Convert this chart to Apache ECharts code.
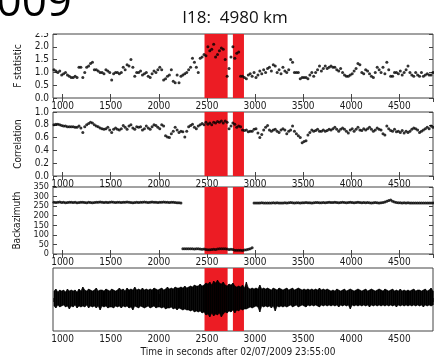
<!DOCTYPE html>
<html>
<head>
<meta charset="utf-8">
<script src="https://cdn.jsdelivr.net/npm/echarts@6/dist/echarts.min.js"></script>
<style>
  html, body { margin: 0; padding: 0; background: #fff; }
  #chart { width: 434px; height: 361px; }
</style>
</head>
<body>
<div id="chart"></div>
<script>
// sample times: every 20 s starting at 910 s
var tStart = 910;
var tStep = 20;

var fStat = [
  1.1, 1.05, 1.0, 1.05, 0.9,   0.95, 1.0, 0.9, 0.85, 0.8,   0.8, 0.85, 0.8, 1.2, 1.2,
  0.8, 1.0, 1.2, 1.25, 1.35,   1.4, 1.1, 1.1, 1.05, 1.0,   1.0, 0.95, 1.1, 1.05, 1.0,
  0.7, 0.95, 1.0, 1.0, 0.95,   1.0, 1.2, 1.1, 1.3, 1.25,   1.5, 1.2, 0.85, 1.0, 1.0,
  1.05, 0.9, 0.95, 1.0, 0.85,  0.8, 0.95, 1.05, 1.0, 1.1,  1.2, 1.1, 0.7, 0.75, 0.85,
  0.9, 1.1, 0.65, 0.6, 0.9,    0.6, 0.85, 0.9, 0.95, 1.0,  1.1, 1.2, 1.55, 1.4, 1.2,
  1.0, 1.55, 1.6, 1.7, 1.65,   2.0, 1.85, 1.9, 2.1, 1.6,   1.7, 1.85, 1.95, 1.9, 1.5,
  0.85, 1.15, 1.6, 2.0, 1.55,  1.75, 1.8, 0.85, 0.85, 0.8, 0.75, 0.9, 0.95, 0.85, 1.0,
  0.8, 0.9, 1.05, 0.95, 1.1,   1.0, 1.15, 1.2, 1.05, 1.3,  1.25, 1.0, 1.1, 0.95, 1.2,
  1.05, 1.0, 1.1, 1.5, 1.4,    1.0, 1.0, 1.0, 0.75, 0.8,   0.8, 0.8, 0.75, 0.9, 1.0,
  0.85, 1.0, 1.1, 1.25, 1.05,  1.15, 1.25, 1.15, 1.2, 1.25, 1.2, 1.2, 1.1, 1.05, 1.15,
  1.0, 0.9, 0.85, 0.85, 0.9,   0.95, 1.05, 1.15, 1.35, 1.3, 1.0, 0.95, 1.1, 1.05, 0.95,
  0.85, 0.8, 1.0, 1.2, 1.1,    1.0, 1.2, 0.95, 1.4, 1.1,   0.85, 0.85, 1.0, 1.0, 0.95,
  1.05, 0.9, 1.0, 1.1, 1.25,   1.0, 0.9, 0.85, 1.0, 0.9,   0.85, 1.0, 0.85, 0.9, 0.95,
  0.9, 0.9, 1.0
];

var correlation = [
  0.80, 0.81, 0.81, 0.80, 0.79,  0.78, 0.78, 0.77, 0.77, 0.77,  0.77, 0.76, 0.76, 0.78, 0.75,
  0.68, 0.77, 0.80, 0.82, 0.84,  0.83, 0.80, 0.78, 0.77, 0.75,  0.74, 0.73, 0.74, 0.76, 0.72,
  0.68, 0.73, 0.75, 0.73, 0.72,  0.74, 0.79, 0.76, 0.73, 0.78,  0.80, 0.75, 0.73, 0.77, 0.76,
  0.77, 0.72, 0.74, 0.78, 0.75,  0.73, 0.77, 0.80, 0.79, 0.76,  0.74, 0.80, 0.78, 0.63, 0.61,
  0.60, 0.66, 0.70, 0.76, 0.72,  0.68, 0.70, 0.69, 0.61, 0.70,  0.77, 0.79, 0.81, 0.76, 0.74,
  0.78, 0.80, 0.82, 0.80, 0.84,  0.81, 0.83, 0.80, 0.84, 0.83,  0.85, 0.84, 0.86, 0.83, 0.86,
  0.84, 0.74, 0.78, 0.83, 0.81,  0.76, 0.78, 0.77, 0.72, 0.71,  0.72, 0.69, 0.70, 0.70, 0.73,
  0.74, 0.67, 0.60, 0.65, 0.72,  0.76, 0.79, 0.72, 0.70, 0.72,  0.73, 0.70, 0.68, 0.72, 0.74,
  0.72, 0.66, 0.70, 0.72, 0.78,  0.70, 0.66, 0.63, 0.60, 0.52,  0.54, 0.55, 0.64, 0.68, 0.72,
  0.70, 0.71, 0.73, 0.70, 0.70,  0.72, 0.70, 0.71, 0.73, 0.72,  0.74, 0.76, 0.73, 0.70, 0.73,
  0.75, 0.73, 0.70, 0.67, 0.72,  0.74, 0.70, 0.73, 0.76, 0.72,  0.71, 0.74, 0.72, 0.74, 0.76,
  0.73, 0.70, 0.72, 0.75, 0.73,  0.72, 0.66, 0.64, 0.78, 0.74,  0.71, 0.70, 0.73, 0.69, 0.70,
  0.68, 0.71, 0.67, 0.70, 0.68,  0.70, 0.73, 0.75, 0.74, 0.72,  0.68, 0.70, 0.72, 0.74, 0.76,
  0.74, 0.78, 0.76
];

var backazimuth = [
  270, 269, 270, 271, 269,  270, 268, 269, 270, 270,  269, 270, 268, 269, 270,
  270, 269, 268, 270, 269,  268, 269, 270, 270, 271,  270, 269, 270, 269, 270,
  271, 270, 269, 270, 270,  269, 270, 270, 271, 270,  269, 268, 269, 270, 269,
  270, 270, 271, 270, 269,  270, 271, 270, 270, 269,  270, 270, 271, 270, 270,
  269, 270, 270, 269, 268,  268, 266,
  28, 28, 27, 28, 27, 27, 26, 27, 28, 26,  25, 26, 24, 22, 22, 23, 25, 24, 26, 27,
  27, 28, 28, 26, 24, 25, 23, 20, 20, 19,  20, 18, 21, 22, 25, 28, 33,
  266,
  267, 266, 267, 268, 266,  267, 266, 267, 267, 268,  267, 268, 267, 266, 267,
  268, 267, 268, 269, 268,  267, 268, 268, 267, 268,  268, 269, 268, 268, 267,
  268, 269, 269, 268, 268,  269, 268, 269, 270, 269,  269, 270, 269, 268, 269,
  270, 269, 268, 269, 270,  269, 268, 269, 270, 269,  268, 269, 268, 269, 268,
  267, 268, 269, 268, 267,  268, 269, 271, 275, 280,  282, 276, 271, 269, 268,
  268, 267, 268, 267, 268,  267, 266, 267, 266, 267,  266, 267, 266, 266, 267,
  266, 266, 267
];

// waveform envelope (upper peak, lower trough magnitude) per sample
var waveUpper = [
  7, 9, 6, 8, 7,  8, 6, 9, 7, 8,  7, 8, 6, 9, 7,  11, 8, 7, 9, 8,  7, 8, 10, 7, 8,
  8, 7, 9, 8, 7,  9, 8, 7, 8, 10,  8, 9, 7, 10, 8,  9, 8, 11, 8, 9,  8, 10, 8, 9, 8,
  9, 8, 10, 9, 8,  9, 10, 8, 9, 11,  9, 10, 9, 11, 10,  10, 11, 10, 12, 10,  11, 12, 11, 13, 12,
  12, 14, 12, 13, 15,  14, 16, 13, 17, 15,  18, 15, 14, 16, 13,  12, 14, 13, 15, 12,
  11, 12, 11, 13, 10,  16, 10, 9, 10, 9,  10, 9, 13, 9, 10,  9, 10, 9, 8, 10,  9, 8, 10, 9, 8,
  9, 10, 8, 9, 10,  8, 9, 10, 9, 8,  9, 8, 9, 8, 9,  8, 9, 8, 10, 8,  9, 8, 9, 8, 7,
  8, 7, 9, 8, 7,  8, 9, 7, 8, 9,  8, 7, 8, 9, 8,  7, 8, 9, 7, 8,  9, 8, 7, 8, 9,
  8, 7, 9, 8, 7,  8, 9, 7, 8, 7,  9, 7, 8, 7, 8,  7, 8, 9, 7, 8,  8, 7, 8, 9, 7,
  8, 10, 7
];
var waveLower = [
  8, 10, 7, 9, 8,  7, 9, 8, 11, 8,  9, 7, 10, 8, 9,  8, 9, 7, 10, 8,  9, 8, 10, 8, 12,
  8, 9, 8, 10, 9,  9, 10, 8, 9, 8,  10, 8, 9, 8, 10,  9, 12, 8, 9, 10,  8, 9, 10, 9, 8,
  10, 9, 8, 10, 9,  9, 10, 9, 11, 10,  10, 9, 11, 10, 12,  10, 11, 12, 11, 12,  12, 13, 12, 14, 13,
  14, 13, 15, 14, 17,  16, 19, 15, 18, 16,  17, 15, 19, 16, 14,  15, 13, 14, 12, 15,
  12, 13, 11, 12, 11,  11, 10, 9, 10, 9,  8, 9, 14, 8, 9,  8, 9, 8, 10, 8,  13, 8, 9, 8, 9,
  8, 9, 8, 7, 9,  8, 7, 9, 8, 7,  8, 9, 7, 8, 7,  8, 7, 8, 9, 7,  8, 7, 8, 7, 8,
  7, 8, 7, 9, 7,  8, 7, 8, 7, 11,  7, 8, 7, 8, 7,  8, 7, 8, 7, 9,  7, 8, 7, 8, 7,
  8, 7, 8, 7, 8,  7, 8, 7, 9, 7,  8, 7, 8, 7, 8,  7, 8, 7, 8, 7,  8, 7, 9, 7, 8,
  7, 8, 7
];

var redBands = [[2475, 2715], [2770, 2885]];
var yNames = ['F statistic', 'Correlation', 'Backazimuth', ''];

var font = '"DejaVu Sans Condensed", "DejaVu Sans", sans-serif';
var frameColor = '#444';
var textColor = '#1a1a1a';

function pairs(values) {
  return values.map(function (v, i) { return [tStart + i * tStep, v]; });
}

var waveData = waveUpper.map(function (u, i) {
  return [tStart + i * tStep, u, -waveLower[i]];
});

var grids = [
  { left: 53, right: 1, top: 34, height: 64 },
  { left: 53, right: 1, top: 112, height: 64 },
  { left: 53, right: 1, top: 187, height: 67 },
  { left: 53, right: 1, top: 268, height: 63 }
];
var yRanges = [
  { min: 0, max: 2.5, interval: 0.5, fmt: function (v) { return v.toFixed(1); }, gap: 23, size: 10 },
  { min: 0, max: 1, interval: 0.2, fmt: function (v) { return v.toFixed(1); }, gap: 24, size: 10 },
  { min: 0, max: 350, interval: 50, fmt: function (v) { return String(v); }, gap: 27, size: 9 },
  { min: -33, max: 30, interval: 10, fmt: null, gap: 0, size: 10 }
];

var xAxes = [], yAxes = [], series = [];
grids.forEach(function (g, k) {
  g.show = true;
  g.borderColor = frameColor;
  g.borderWidth = 1;
  ['bottom', 'top'].forEach(function (pos) {
    xAxes.push({
      gridIndex: k, type: 'value', position: pos,
      min: 900, max: 4850, splitNumber: 8,
      axisLine: { show: false },
      axisTick: { show: true, inside: true, length: 4, lineStyle: { color: frameColor } },
      splitLine: { show: false },
      axisLabel: {
        show: pos === 'bottom', showMinLabel: false, showMaxLabel: false, hideOverlap: false,
        margin: 3, fontSize: 10, color: textColor, fontFamily: font,
        formatter: function (v) { return String(v); }
      }
    });
  });
  var r = yRanges[k];
  ['left', 'right'].forEach(function (pos) {
    yAxes.push({
      gridIndex: k, type: 'value', position: pos,
      min: r.min, max: r.max, interval: r.interval,
      name: pos === 'left' ? yNames[k] : '',
      nameLocation: 'middle', nameGap: r.gap,
      nameTextStyle: { fontSize: 10, color: textColor, fontFamily: font },
      axisLine: { show: false },
      axisTick: { show: r.fmt !== null, inside: true, length: 4, lineStyle: { color: frameColor } },
      splitLine: { show: false },
      axisLabel: {
        show: pos === 'left' && r.fmt !== null, margin: 4,
        showMinLabel: true, showMaxLabel: true, hideOverlap: false,
        fontSize: r.size, lineHeight: r.size, color: textColor, fontFamily: font,
        formatter: r.fmt || undefined
      }
    });
  });
  // red time windows
  series.push({
    type: 'line', xAxisIndex: 2 * k, yAxisIndex: 2 * k, data: [], silent: true, z: 1,
    markArea: {
      silent: true,
      itemStyle: { color: '#ec1c24', opacity: 1 },
      data: redBands.map(function (b) { return [{ xAxis: b[0] }, { xAxis: b[1] }]; })
    }
  });
});

[fStat, correlation, backazimuth].forEach(function (vals, k) {
  series.push({
    type: 'scatter', xAxisIndex: 2 * k, yAxisIndex: 2 * k, z: 3,
    symbol: 'circle', symbolSize: 3,
    itemStyle: { color: '#000' },
    data: pairs(vals)
  });
});
// seismogram: filled band between successive peak / trough samples
series.push({
  type: 'custom', xAxisIndex: 6, yAxisIndex: 6, z: 3,
  encode: { x: 0, y: [1, 2] },
  renderItem: function (params, api) {
    var i = params.dataIndex;
    var j = Math.min(i + 1, waveData.length - 1);
    var a = waveData[i], b = waveData[j];
    var p1 = api.coord([a[0], a[1]]);
    var p2 = api.coord([b[0], b[1]]);
    var p3 = api.coord([b[0], b[2]]);
    var p4 = api.coord([a[0], a[2]]);
    return {
      type: 'polygon',
      shape: { points: [p1, p2, p3, p4] },
      style: { fill: '#000', stroke: '#000', lineWidth: 0.6 }
    };
  },
  data: waveData
});

var chart = echarts.init(document.getElementById('chart'), null, { renderer: 'canvas' });
chart.setOption({
  animation: false,
  backgroundColor: '#fff',
  grid: grids,
  xAxis: xAxes,
  yAxis: yAxes,
  series: series,
  graphic: [
    { type: 'text', style: { text: '2009', x: 72, y: 25, font: '44px "Open Sans", sans-serif',
      fill: '#000', textAlign: 'right', textVerticalAlign: 'bottom', align: 'right', verticalAlign: 'bottom' } },
    { type: 'text', style: { text: 'I18:  4980 km', x: 235, y: 18, font: '17px "Open Sans", sans-serif',
      fill: '#111', textAlign: 'center', textVerticalAlign: 'middle', align: 'center', verticalAlign: 'middle' } },
    { type: 'rect', shape: { x: 28, y: 20, width: 24, height: 13 }, style: { fill: '#fff' }, z: 100 },
    { type: 'text', style: { text: 'Time in seconds after 02/07/2009 23:55:00', x: 238, y: 352,
      font: '10px ' + font, fill: textColor, textAlign: 'center', textVerticalAlign: 'middle',
      align: 'center', verticalAlign: 'middle' } }
  ]
});
</script>
</body>
</html>
